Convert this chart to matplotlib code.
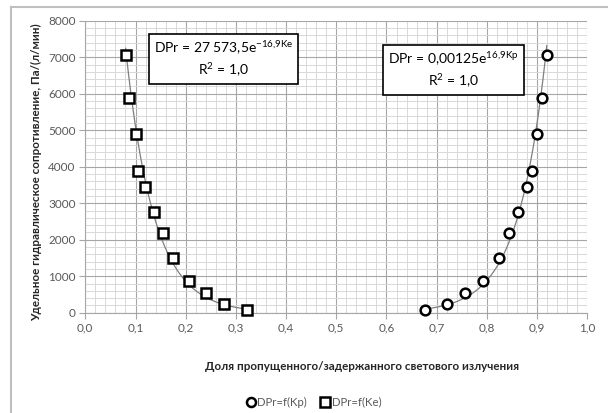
import numpy as np
import matplotlib
matplotlib.use("Agg")
import matplotlib.pyplot as plt
from matplotlib.ticker import MultipleLocator, FuncFormatter
from matplotlib.lines import Line2D

plt.rcParams['font.family'] = ['Lato', 'DejaVu Sans']

# Data
dpr = [7066, 5890, 4906, 3894, 3445, 2754, 2188, 1488, 875, 539, 246, 66]
ke = [0.0803, 0.0869, 0.1002, 0.1054, 0.1187, 0.1366, 0.1550, 0.1750, 0.2068, 0.2414, 0.2763, 0.3229]
kp = [0.9193, 0.9105, 0.9006, 0.8907, 0.8807, 0.8628, 0.8449, 0.8244, 0.7913, 0.7563, 0.7197, 0.6767]

x_ticks = [0.0, 0.1, 0.2, 0.3, 0.4, 0.5, 0.6, 0.7, 0.8, 0.9, 1.0]
y_ticks = [0, 1000, 2000, 3000, 4000, 5000, 6000, 7000, 8000]

eq_ke = "DPr = 27 573,5e$^{\\mathregular{-16{,}9Ke}}$\nR$^{\\mathregular{2}}$ = 1,0"
eq_kp = "DPr = 0,00125e$^{\\mathregular{16{,}9Kp}}$\nR$^{\\mathregular{2}}$ = 1,0"
xlabel = "Доля пропущенного/задержанного светового излучения"
ylabel = "Удельное гидравлическое сопротивление, Па/(л/мин)"
leg_kp = "DPr=f(Kp)"
leg_ke = "DPr=f(Ke)"

fig = plt.figure(figsize=(6.08, 4.13), dpi=100)
ax = fig.add_axes([85.3/608, 1-312.7/413, (587.3-85.3)/608, (312.7-20.7)/413])

# outer chart frame (left and top visible)
fig.add_artist(Line2D([11/608, 11/608], [0, 1-7/413], transform=fig.transFigure, color='#bfbfbf', lw=1.5))
fig.add_artist(Line2D([11/608, 1], [1-7/413, 1-7/413], transform=fig.transFigure, color='#bfbfbf', lw=1.5))

ax.set_xlim(0, 1.0)
ax.set_ylim(0, 8000)
ax.xaxis.set_minor_locator(MultipleLocator(0.02))
ax.yaxis.set_minor_locator(MultipleLocator(200))
ax.set_xticks(x_ticks)
ax.set_yticks(y_ticks)
ax.xaxis.set_major_formatter(FuncFormatter(lambda v, p: f"{v:.1f}".replace('.', ',')))
ax.grid(which='major', color='#a6a6a6', lw=0.8)
ax.grid(which='minor', color='#d9d9d9', lw=0.7)
ax.set_axisbelow(True)
for s in ['top', 'right']:
    ax.spines[s].set_visible(False)
for s in ['left', 'bottom']:
    ax.spines[s].set_color('#a6a6a6')
    ax.spines[s].set_linewidth(0.8)
ax.tick_params(which='major', length=4, color='#a6a6a6', labelsize=8.5, labelcolor='#595959', pad=3)
ax.tick_params(which='minor', length=0)

# exponential trend lines fitted from the data
for xs in (ke, kp):
    xs_a = np.array(xs)
    b, a = np.polyfit(xs_a, np.log(dpr), 1)
    xx = np.linspace(xs_a.min(), xs_a.max(), 200)
    ax.plot(xx, np.exp(a) * np.exp(b * xx), color='#7f7f7f', lw=0.9, zorder=2)

ax.plot(kp, dpr, 'o', ms=7, mfc='white', mec='black', mew=1.8, zorder=3, clip_on=False)
ax.plot(ke, dpr, 's', ms=7, mfc='white', mec='black', mew=1.8, zorder=3, clip_on=False)

bbox = dict(boxstyle='square,pad=0.35', fc='white', ec='black', lw=1.2)
fig.text(223.5/608, 1-59/413, eq_ke, ha='center', va='center', fontsize=10, bbox=bbox,
         linespacing=1.3, zorder=5)
fig.text(453.5/608, 1-70/413, eq_kp, ha='center', va='center', fontsize=10, bbox=bbox,
         linespacing=1.3, zorder=5)

fig.text(362/608, 1-366/413, xlabel, ha='center', va='center', fontsize=8.4, fontweight='bold', color='#262626')
fig.text(37/608, 1-172/413, ylabel, ha='center', va='center', rotation=90, fontsize=8.4,
         fontweight='bold', color='#262626')

handles = [Line2D([], [], marker='o', ls='none', ms=6.5, mfc='white', mec='black', mew=1.8),
           Line2D([], [], marker='s', ls='none', ms=6.5, mfc='white', mec='black', mew=1.8)]
fig.legend(handles, [leg_kp, leg_ke], loc='center', bbox_to_anchor=(314/608, 1-402/413),
           ncol=2, frameon=False, fontsize=8.2, handlelength=0.8, handletextpad=0.2,
           columnspacing=1.2, labelcolor='#595959')

fig.savefig("out.png", dpi=100)
